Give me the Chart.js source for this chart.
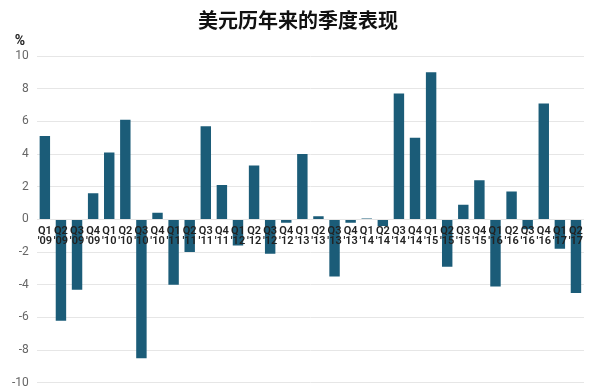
<!DOCTYPE html>
<html>
<head>
<meta charset="utf-8">
<script src="https://cdn.jsdelivr.net/npm/chart.js@4"></script>
<style>
  body { margin: 0; background: #fff; }
  canvas { display: block; }
</style>
</head>
<body>
<canvas id="usd-chart" width="600" height="390"></canvas>
<script>
const quarters = ['Q1', 'Q2', 'Q3', 'Q4', 'Q1', 'Q2', 'Q3', 'Q4', 'Q1', 'Q2', 'Q3', 'Q4',
    'Q1', 'Q2', 'Q3', 'Q4', 'Q1', 'Q2', 'Q3', 'Q4', 'Q1', 'Q2', 'Q3', 'Q4',
    'Q1', 'Q2', 'Q3', 'Q4', 'Q1', 'Q2', 'Q3', 'Q4', 'Q1', 'Q2'];
const years = ["'09", "'09", "'09", "'09", "'10", "'10", "'10", "'10", "'11", "'11", "'11", "'11",
    "'12", "'12", "'12", "'12", "'13", "'13", "'13", "'13", "'14", "'14", "'14", "'14",
    "'15", "'15", "'15", "'15", "'16", "'16", "'16", "'16", "'17", "'17"];
const changes = [5.1, -6.2, -4.3, 1.6, 4.1, 6.1, -8.5, 0.4, -4.0, -2.0, 5.7, 2.1,
    -1.6, 3.3, -2.1, -0.2, 4.0, 0.2, -3.5, -0.2, 0.05, -0.4, 7.7, 5.0,
    9.0, -2.9, 0.9, 2.4, -4.1, 1.7, -0.6, 7.1, -1.8, -4.5];
const yTicks = [-10, -8, -6, -4, -2, 0, 2, 4, 6, 8, 10];

const labels = quarters.map((q, i) => [q, years[i]]);

// category labels sit on the zero line, over the bars
const zeroLabels = {
    id: 'zeroLabels',
    afterDatasetsDraw(chart) {
        const ctx = chart.ctx;
        const x = chart.scales.x;
        const y = chart.scales.y;
        const y0 = y.getPixelForValue(0);
        ctx.save();
        ctx.font = '600 11px Roboto, "Noto Sans", sans-serif';
        ctx.fillStyle = '#222';
        ctx.textAlign = 'center';
        ctx.textBaseline = 'middle';
        labels.forEach((l, i) => {
            const px = x.getPixelForValue(i);
            ctx.fillText(l[0], px, y0 + 12);
            ctx.fillText(l[1], px, y0 + 22);
        });
        // unit above the axis
        ctx.font = 'bold 14px Roboto, "Noto Sans", sans-serif';
        ctx.fillStyle = '#222';
        ctx.fillText('%', 20, chart.chartArea.top - 15);
        ctx.restore();
    }
};

new Chart(document.getElementById('usd-chart').getContext('2d'), {
    type: 'bar',
    data: {
        labels: labels,
        datasets: [{
            data: changes,
            backgroundColor: '#1b5c78',
            barPercentage: 0.72,
            categoryPercentage: 0.9
        }]
    },
    options: {
        responsive: false,
        animation: false,
        layout: { padding: { left: 12, right: 16, bottom: 0 } },
        plugins: {
            legend: { display: false },
            tooltip: { enabled: false },
            title: {
                display: true,
                text: '美元历年来的季度表现',
                color: '#111',
                font: { size: 20, weight: 'bold', family: '"Noto Sans CJK SC", sans-serif' },
                padding: { top: 8, bottom: 24 }
            }
        },
        scales: {
            x: { display: false },
            y: {
                min: -10,
                max: 10,
                afterBuildTicks: (axis) => { axis.ticks = yTicks.map(v => ({ value: v })); },
                ticks: {
                    color: '#666',
                    font: { size: 12, family: 'Roboto, "Noto Sans", sans-serif' },
                    padding: 0
                },
                grid: { color: '#e6e6e6', drawTicks: true, tickLength: 8, tickColor: 'rgba(0,0,0,0)' },
                border: { display: false }
            }
        }
    },
    plugins: [zeroLabels]
});
</script>
</body>
</html>
